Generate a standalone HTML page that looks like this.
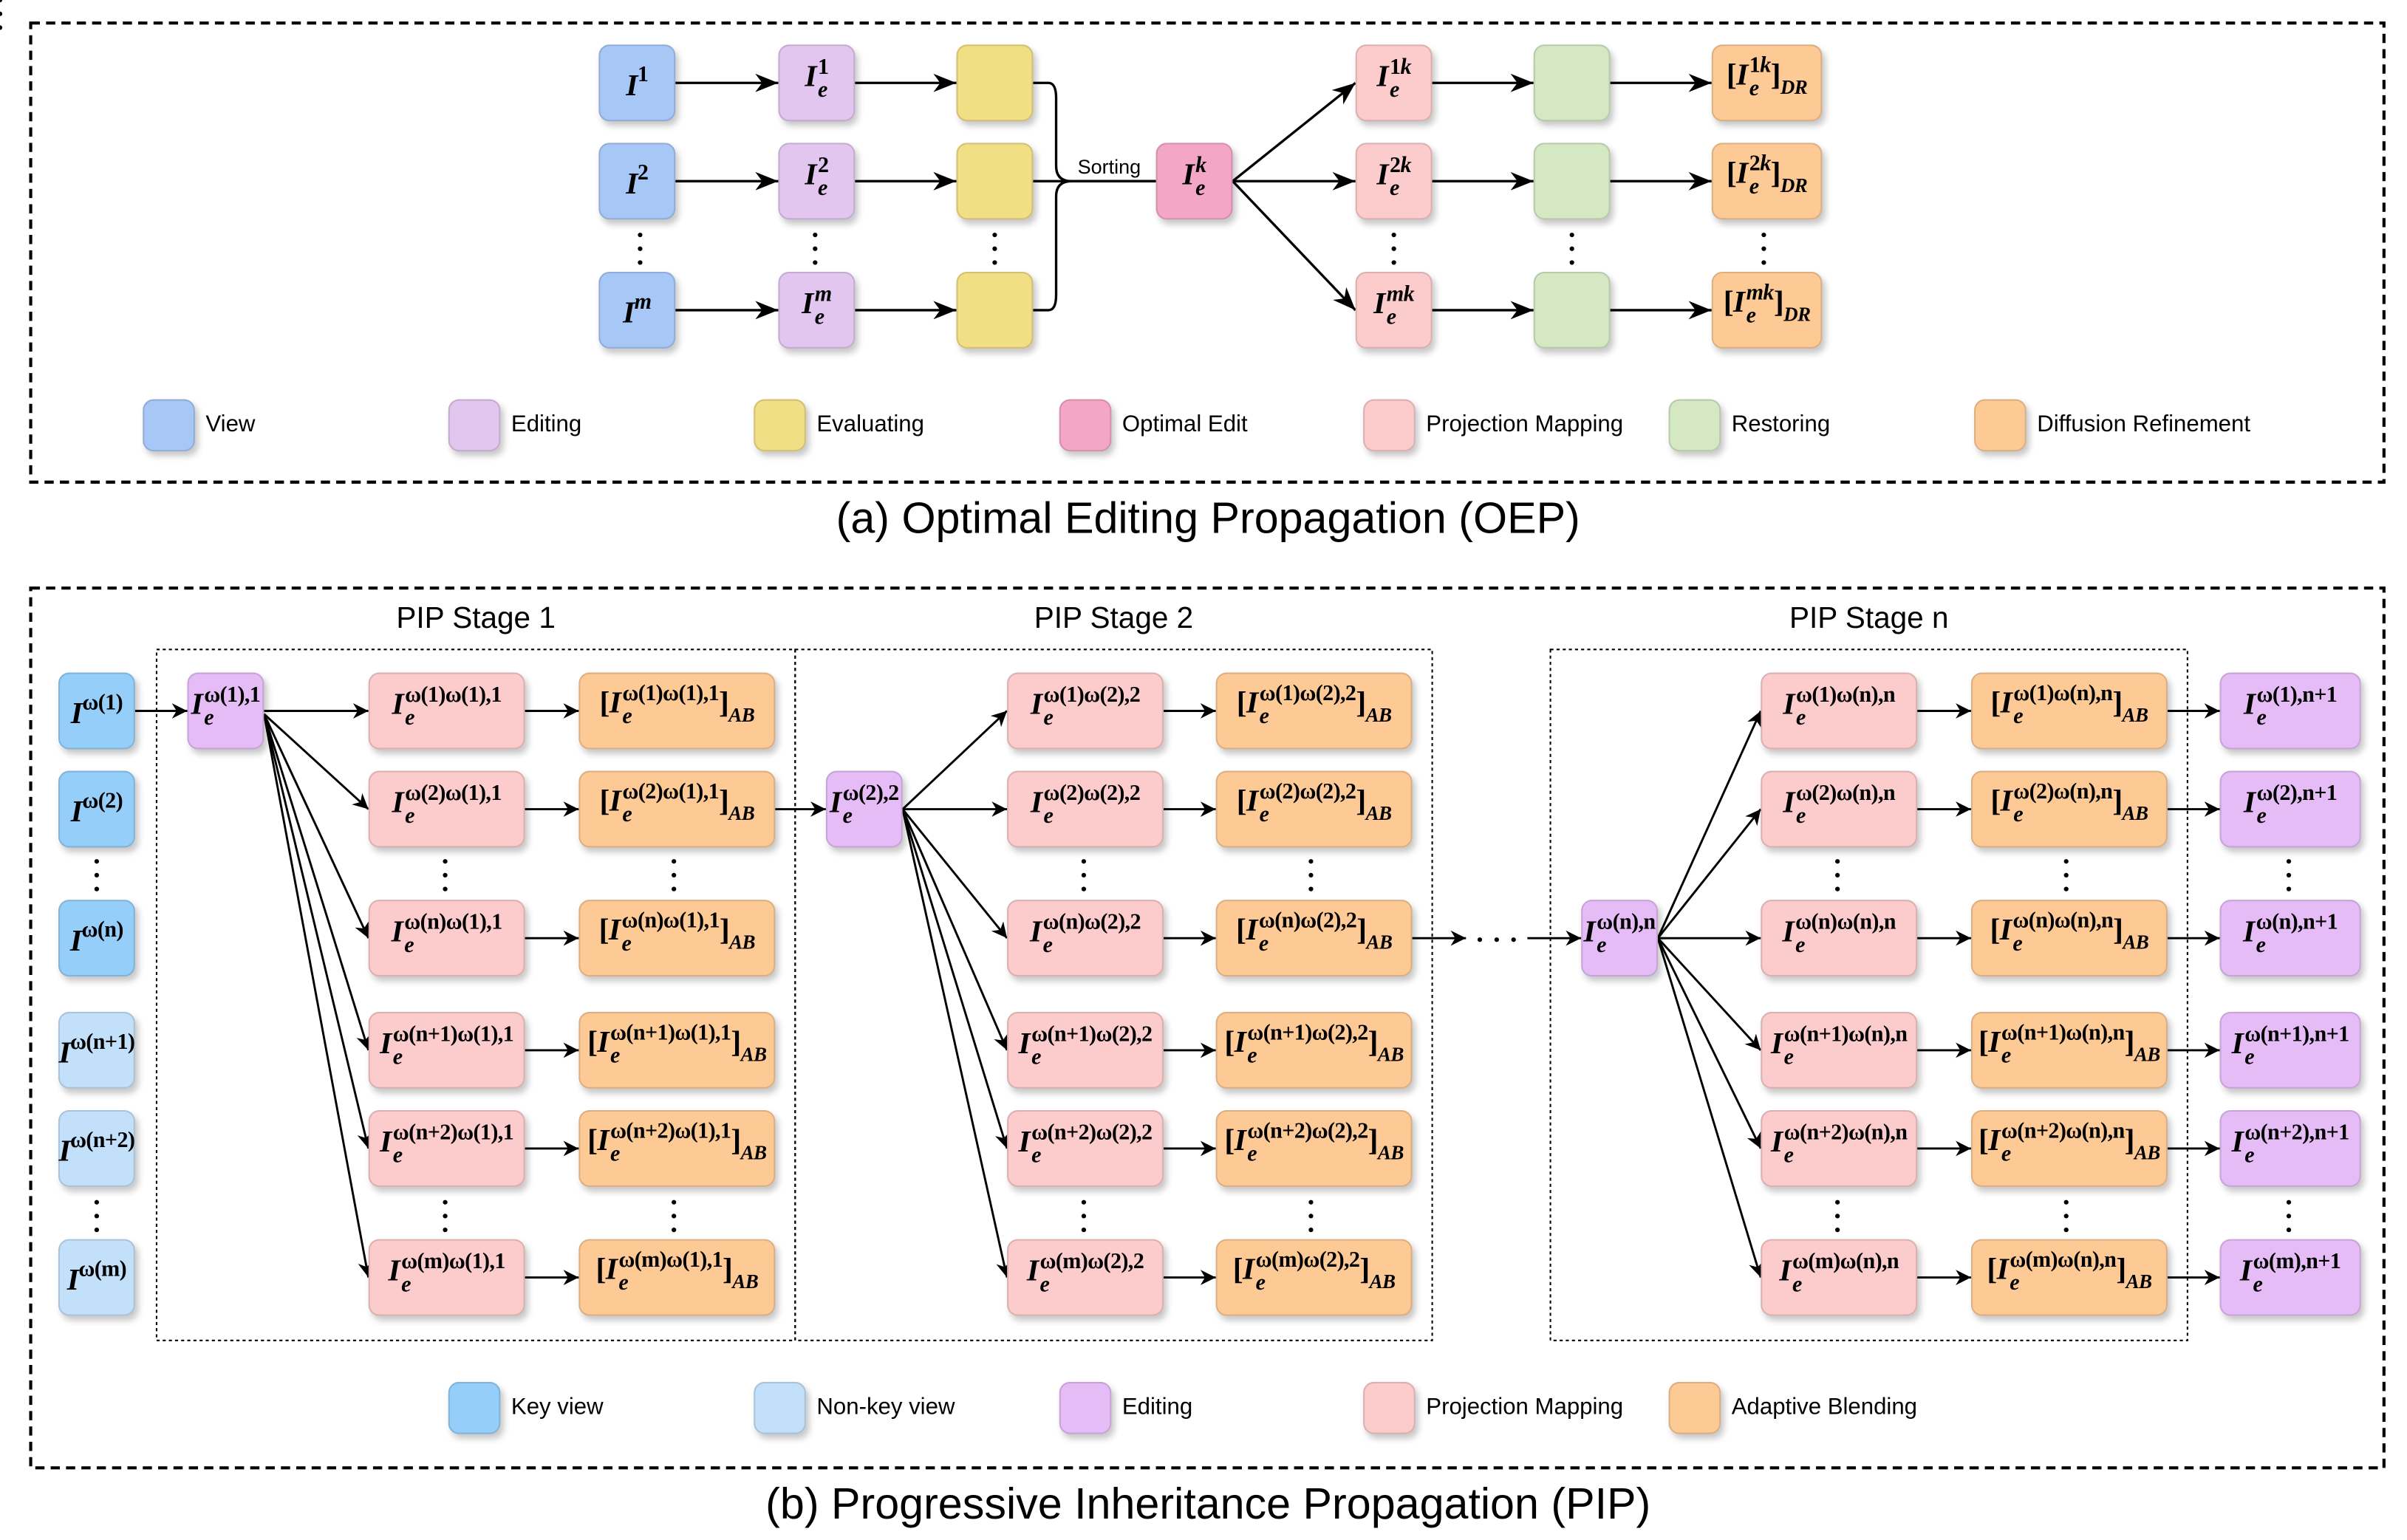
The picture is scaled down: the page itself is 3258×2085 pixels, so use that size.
<!DOCTYPE html>
<html><head><meta charset="utf-8">
<style>
html,body{margin:0;padding:0;background:#fff;}
body{width:3258px;height:2085px;overflow:hidden;position:relative;}
#c{position:absolute;left:0;top:0;width:1568px;height:1003px;transform-origin:0 0;transform:scale(2.0778,2.0788);font-family:"Liberation Sans",sans-serif;}
.b{position:absolute;box-sizing:border-box;border-radius:7px;border:1px solid rgba(0,0,0,.13);box-shadow:2px 3px 4px rgba(0,0,0,.22);display:flex;align-items:center;justify-content:center;white-space:nowrap;}
.m{font-family:"Liberation Serif","DejaVu Serif",serif;font-weight:bold;font-size:20px;line-height:22px;margin-top:-4px;letter-spacing:-0.3px;}
.m i{font-style:italic;}
.ss{display:inline-flex;flex-direction:column;vertical-align:8px;font-size:14.5px;line-height:15px;font-style:normal;margin-left:1px;}
.ss span:last-child{font-style:italic;}
.su{font-size:14.5px;vertical-align:9px;font-style:normal;}
.sb{font-size:13px;vertical-align:-6px;font-style:italic;}
.vi{background:#a7c7f7}.ed{background:#e2c6ef}.ev{background:#f2de84}.op{background:#f4a6c7}
.pj{background:#fccbcb}.rs{background:#d5e8c4}.df{background:#fdca96}
.kv{background:#95cff9}.nk{background:#c3e0fa}.pe{background:#e6bcf7}
.lg{position:absolute;font-size:15px;}
.t{position:absolute;white-space:nowrap;}
svg{position:absolute;left:0;top:0;}
</style></head><body><div id="c">

<svg width="1568" height="1003" viewBox="0 0 1568 1003">
<defs><marker id="a" viewBox="0 0 10 10" refX="10" refY="5" markerWidth="10" markerHeight="10" markerUnits="userSpaceOnUse" orient="auto"><path d="M0,0 L10,5 L0,10 L3,5z" fill="#000"/></marker>
<marker id="A" viewBox="0 0 10 10" refX="10" refY="5" markerWidth="15" markerHeight="15" markerUnits="userSpaceOnUse" orient="auto"><path d="M0,1 L10,5 L0,9 L3,5z" fill="#000"/></marker></defs>
<rect x="20" y="15" width="1533" height="299" fill="none" stroke="#000" stroke-width="2" stroke-dasharray="6,4"/>
<rect x="20" y="383" width="1533" height="573" fill="none" stroke="#000" stroke-width="2" stroke-dasharray="6,4"/>
<g fill="none" stroke="#000" stroke-width="1" stroke-dasharray="2,2">
<rect x="102" y="423" width="416" height="450"/><rect x="518" y="423" width="415" height="450"/><rect x="1010" y="423" width="415" height="450"/></g>
<g stroke="#000" stroke-width="1.6" fill="none" marker-end="url(#A)">
<line x1="440" y1="54" x2="507" y2="54"/><line x1="440" y1="118" x2="507" y2="118"/><line x1="440" y1="202" x2="507" y2="202"/>
<line x1="557" y1="54" x2="623" y2="54"/><line x1="557" y1="118" x2="623" y2="118"/><line x1="557" y1="202" x2="623" y2="202"/>
<line x1="803" y1="118" x2="883" y2="54"/><line x1="803" y1="118" x2="883" y2="118"/><line x1="803" y1="118" x2="883" y2="202"/>
<line x1="933" y1="54" x2="999" y2="54"/><line x1="933" y1="118" x2="999" y2="118"/><line x1="933" y1="202" x2="999" y2="202"/>
<line x1="1049" y1="54" x2="1115" y2="54"/><line x1="1049" y1="118" x2="1115" y2="118"/><line x1="1049" y1="202" x2="1115" y2="202"/>
</g>
<g stroke="#000" stroke-width="1.6" fill="none">
<path d="M673,54 H683 Q688,54 688,64 V108 Q688,118 698,118 H753"/>
<path d="M673,118 H753"/>
<path d="M673,202 H683 Q688,202 688,192 V128 Q688,118 698,118"/>
</g>
<g stroke="#000" stroke-width="1.4" fill="none" marker-end="url(#a)">
<line x1="88" y1="463" x2="122" y2="463"/>
<line x1="172" y1="463" x2="240" y2="463"/><line x1="172" y1="465" x2="240" y2="527"/><line x1="172" y1="465" x2="240" y2="611"/><line x1="172" y1="465" x2="240" y2="684"/><line x1="172" y1="465" x2="240" y2="748"/><line x1="172" y1="465" x2="240" y2="832"/>
<line x1="342" y1="463" x2="377" y2="463"/><line x1="342" y1="527" x2="377" y2="527"/><line x1="342" y1="611" x2="377" y2="611"/><line x1="342" y1="684" x2="377" y2="684"/><line x1="342" y1="748" x2="377" y2="748"/><line x1="342" y1="832" x2="377" y2="832"/>
<line x1="505" y1="527" x2="538" y2="527"/>
<line x1="588" y1="527" x2="656" y2="463"/><line x1="588" y1="527" x2="656" y2="527"/><line x1="588" y1="527" x2="656" y2="611"/><line x1="588" y1="527" x2="656" y2="684"/><line x1="588" y1="527" x2="656" y2="748"/><line x1="588" y1="527" x2="656" y2="832"/>
<line x1="758" y1="463" x2="792" y2="463"/><line x1="758" y1="527" x2="792" y2="527"/><line x1="758" y1="611" x2="792" y2="611"/><line x1="758" y1="684" x2="792" y2="684"/><line x1="758" y1="748" x2="792" y2="748"/><line x1="758" y1="832" x2="792" y2="832"/>
<line x1="920" y1="611" x2="955" y2="611"/><line x1="995" y1="611" x2="1030" y2="611"/>
<line x1="1080" y1="611" x2="1147" y2="463"/><line x1="1080" y1="611" x2="1147" y2="527"/><line x1="1080" y1="611" x2="1147" y2="611"/><line x1="1080" y1="611" x2="1147" y2="684"/><line x1="1080" y1="611" x2="1147" y2="748"/><line x1="1080" y1="611" x2="1147" y2="832"/>
<line x1="1249" y1="463" x2="1284" y2="463"/><line x1="1249" y1="527" x2="1284" y2="527"/><line x1="1249" y1="611" x2="1284" y2="611"/><line x1="1249" y1="684" x2="1284" y2="684"/><line x1="1249" y1="748" x2="1284" y2="748"/><line x1="1249" y1="832" x2="1284" y2="832"/>
<line x1="1412" y1="463" x2="1446" y2="463"/><line x1="1412" y1="527" x2="1446" y2="527"/><line x1="1412" y1="611" x2="1446" y2="611"/><line x1="1412" y1="684" x2="1446" y2="684"/><line x1="1412" y1="748" x2="1446" y2="748"/><line x1="1412" y1="832" x2="1446" y2="832"/>
</g>
<g fill="#000">
<circle cx="964" cy="612" r="1.5"/><circle cx="975" cy="612" r="1.5"/><circle cx="986" cy="612" r="1.5"/>
<g id="dt"><circle cx="0" cy="0" r="1.5"/><circle cx="0" cy="9" r="1.5"/><circle cx="0" cy="18" r="1.5"/></g>
</g>
<g fill="#000">
<use href="#dt" x="417" y="153"/><use href="#dt" x="531" y="153"/><use href="#dt" x="648" y="153"/><use href="#dt" x="908" y="153"/><use href="#dt" x="1024" y="153"/><use href="#dt" x="1149" y="153"/>
<use href="#dt" x="63" y="561"/><use href="#dt" x="63" y="783"/>
<use href="#dt" x="290" y="561"/><use href="#dt" x="439" y="561"/><use href="#dt" x="290" y="783"/><use href="#dt" x="439" y="783"/>
<use href="#dt" x="706" y="561"/><use href="#dt" x="854" y="561"/><use href="#dt" x="706" y="783"/><use href="#dt" x="854" y="783"/>
<use href="#dt" x="1197" y="561"/><use href="#dt" x="1346" y="561"/><use href="#dt" x="1491" y="561"/><use href="#dt" x="1197" y="783"/><use href="#dt" x="1346" y="783"/><use href="#dt" x="1491" y="783"/>
</g>
</svg>

<!-- top -->
<div class="b vi" style="left:390px;top:29px;width:50px;height:50px"><span class="m"><i>I</i><span class="su">1</span></span></div>
<div class="b vi" style="left:390px;top:93px;width:50px;height:50px"><span class="m"><i>I</i><span class="su">2</span></span></div>
<div class="b vi" style="left:390px;top:177px;width:50px;height:50px"><span class="m"><i>I</i><span class="su"><i>m</i></span></span></div>
<div class="b ed" style="left:507px;top:29px;width:50px;height:50px"><span class="m"><i>I</i><span class="ss"><span>1</span><span>e</span></span></span></div>
<div class="b ed" style="left:507px;top:93px;width:50px;height:50px"><span class="m"><i>I</i><span class="ss"><span>2</span><span>e</span></span></span></div>
<div class="b ed" style="left:507px;top:177px;width:50px;height:50px"><span class="m"><i>I</i><span class="ss"><span><i>m</i></span><span>e</span></span></span></div>
<div class="b ev" style="left:623px;top:29px;width:50px;height:50px"></div>
<div class="b ev" style="left:623px;top:93px;width:50px;height:50px"></div>
<div class="b ev" style="left:623px;top:177px;width:50px;height:50px"></div>
<div class="t" style="left:702px;top:101px;font-size:13px">Sorting</div>
<div class="b op" style="left:753px;top:93px;width:50px;height:50px"><span class="m"><i>I</i><span class="ss"><span><i>k</i></span><span>e</span></span></span></div>
<div class="b pj" style="left:883px;top:29px;width:50px;height:50px"><span class="m"><i>I</i><span class="ss"><span>1<i>k</i></span><span>e</span></span></span></div>
<div class="b pj" style="left:883px;top:93px;width:50px;height:50px"><span class="m"><i>I</i><span class="ss"><span>2<i>k</i></span><span>e</span></span></span></div>
<div class="b pj" style="left:883px;top:177px;width:50px;height:50px"><span class="m"><i>I</i><span class="ss"><span><i>mk</i></span><span>e</span></span></span></div>
<div class="b rs" style="left:999px;top:29px;width:50px;height:50px"></div>
<div class="b rs" style="left:999px;top:93px;width:50px;height:50px"></div>
<div class="b rs" style="left:999px;top:177px;width:50px;height:50px"></div>
<div class="b df" style="left:1115px;top:29px;width:72px;height:50px"><span class="m">[<i>I</i><span class="ss"><span>1<i>k</i></span><span>e</span></span>]<span class="sb">DR</span></span></div>
<div class="b df" style="left:1115px;top:93px;width:72px;height:50px"><span class="m">[<i>I</i><span class="ss"><span>2<i>k</i></span><span>e</span></span>]<span class="sb">DR</span></span></div>
<div class="b df" style="left:1115px;top:177px;width:72px;height:50px"><span class="m">[<i>I</i><span class="ss"><span><i>mk</i></span><span>e</span></span>]<span class="sb">DR</span></span></div>

<div class="b vi" style="left:93px;top:260px;width:34px;height:34px"></div><div class="lg" style="left:134px;top:268px">View</div>
<div class="b ed" style="left:292px;top:260px;width:34px;height:34px"></div><div class="lg" style="left:333px;top:268px">Editing</div>
<div class="b ev" style="left:491px;top:260px;width:34px;height:34px"></div><div class="lg" style="left:532px;top:268px">Evaluating</div>
<div class="b op" style="left:690px;top:260px;width:34px;height:34px"></div><div class="lg" style="left:731px;top:268px">Optimal Edit</div>
<div class="b pj" style="left:888px;top:260px;width:34px;height:34px"></div><div class="lg" style="left:929px;top:268px">Projection Mapping</div>
<div class="b rs" style="left:1087px;top:260px;width:34px;height:34px"></div><div class="lg" style="left:1128px;top:268px">Restoring</div>
<div class="b df" style="left:1286px;top:260px;width:34px;height:34px"></div><div class="lg" style="left:1327px;top:268px">Diffusion Refinement</div>

<div class="t" style="left:0;width:1574px;text-align:center;top:322px;font-size:28.5px">(a) Optimal Editing Propagation (OEP)</div>

<!-- bottom -->
<div class="t" style="left:102px;width:416px;text-align:center;top:392px;font-size:19.5px">PIP Stage 1</div>
<div class="t" style="left:518px;width:415px;text-align:center;top:392px;font-size:19.5px">PIP Stage 2</div>
<div class="t" style="left:1010px;width:415px;text-align:center;top:392px;font-size:19.5px">PIP Stage n</div>

<div class="b kv" style="left:38px;top:438px;width:50px;height:50px"><span class="m"><i>I</i><span class="su">ω(1)</span></span></div>
<div class="b kv" style="left:38px;top:502px;width:50px;height:50px"><span class="m"><i>I</i><span class="su">ω(2)</span></span></div>
<div class="b kv" style="left:38px;top:586px;width:50px;height:50px"><span class="m"><i>I</i><span class="su">ω(n)</span></span></div>
<div class="b nk" style="left:38px;top:659px;width:50px;height:50px"><span class="m"><i>I</i><span class="su">ω(n+1)</span></span></div>
<div class="b nk" style="left:38px;top:723px;width:50px;height:50px"><span class="m"><i>I</i><span class="su">ω(n+2)</span></span></div>
<div class="b nk" style="left:38px;top:807px;width:50px;height:50px"><span class="m"><i>I</i><span class="su">ω(m)</span></span></div>

<div class="b pe" style="left:122px;top:438px;width:50px;height:50px"><span class="m"><i>I</i><span class="ss"><span>ω(1),1</span><span>e</span></span></span></div>
<div class="b pe" style="left:538px;top:502px;width:50px;height:50px"><span class="m"><i>I</i><span class="ss"><span>ω(2),2</span><span>e</span></span></span></div>
<div class="b pe" style="left:1030px;top:586px;width:50px;height:50px"><span class="m"><i>I</i><span class="ss"><span>ω(n),n</span><span>e</span></span></span></div>

<!-- stage1 -->
<div class="b pj" style="left:240px;top:438px;width:102px;height:50px"><span class="m"><i>I</i><span class="ss"><span>ω(1)ω(1),1</span><span>e</span></span></span></div>
<div class="b pj" style="left:240px;top:502px;width:102px;height:50px"><span class="m"><i>I</i><span class="ss"><span>ω(2)ω(1),1</span><span>e</span></span></span></div>
<div class="b pj" style="left:240px;top:586px;width:102px;height:50px"><span class="m"><i>I</i><span class="ss"><span>ω(n)ω(1),1</span><span>e</span></span></span></div>
<div class="b pj" style="left:240px;top:659px;width:102px;height:50px"><span class="m"><i>I</i><span class="ss"><span>ω(n+1)ω(1),1</span><span>e</span></span></span></div>
<div class="b pj" style="left:240px;top:723px;width:102px;height:50px"><span class="m"><i>I</i><span class="ss"><span>ω(n+2)ω(1),1</span><span>e</span></span></span></div>
<div class="b pj" style="left:240px;top:807px;width:102px;height:50px"><span class="m"><i>I</i><span class="ss"><span>ω(m)ω(1),1</span><span>e</span></span></span></div>
<div class="b df" style="left:377px;top:438px;width:128px;height:50px"><span class="m">[<i>I</i><span class="ss"><span>ω(1)ω(1),1</span><span>e</span></span>]<span class="sb">AB</span></span></div>
<div class="b df" style="left:377px;top:502px;width:128px;height:50px"><span class="m">[<i>I</i><span class="ss"><span>ω(2)ω(1),1</span><span>e</span></span>]<span class="sb">AB</span></span></div>
<div class="b df" style="left:377px;top:586px;width:128px;height:50px"><span class="m">[<i>I</i><span class="ss"><span>ω(n)ω(1),1</span><span>e</span></span>]<span class="sb">AB</span></span></div>
<div class="b df" style="left:377px;top:659px;width:128px;height:50px"><span class="m">[<i>I</i><span class="ss"><span>ω(n+1)ω(1),1</span><span>e</span></span>]<span class="sb">AB</span></span></div>
<div class="b df" style="left:377px;top:723px;width:128px;height:50px"><span class="m">[<i>I</i><span class="ss"><span>ω(n+2)ω(1),1</span><span>e</span></span>]<span class="sb">AB</span></span></div>
<div class="b df" style="left:377px;top:807px;width:128px;height:50px"><span class="m">[<i>I</i><span class="ss"><span>ω(m)ω(1),1</span><span>e</span></span>]<span class="sb">AB</span></span></div>

<!-- stage2 -->
<div class="b pj" style="left:656px;top:438px;width:102px;height:50px"><span class="m"><i>I</i><span class="ss"><span>ω(1)ω(2),2</span><span>e</span></span></span></div>
<div class="b pj" style="left:656px;top:502px;width:102px;height:50px"><span class="m"><i>I</i><span class="ss"><span>ω(2)ω(2),2</span><span>e</span></span></span></div>
<div class="b pj" style="left:656px;top:586px;width:102px;height:50px"><span class="m"><i>I</i><span class="ss"><span>ω(n)ω(2),2</span><span>e</span></span></span></div>
<div class="b pj" style="left:656px;top:659px;width:102px;height:50px"><span class="m"><i>I</i><span class="ss"><span>ω(n+1)ω(2),2</span><span>e</span></span></span></div>
<div class="b pj" style="left:656px;top:723px;width:102px;height:50px"><span class="m"><i>I</i><span class="ss"><span>ω(n+2)ω(2),2</span><span>e</span></span></span></div>
<div class="b pj" style="left:656px;top:807px;width:102px;height:50px"><span class="m"><i>I</i><span class="ss"><span>ω(m)ω(2),2</span><span>e</span></span></span></div>
<div class="b df" style="left:792px;top:438px;width:128px;height:50px"><span class="m">[<i>I</i><span class="ss"><span>ω(1)ω(2),2</span><span>e</span></span>]<span class="sb">AB</span></span></div>
<div class="b df" style="left:792px;top:502px;width:128px;height:50px"><span class="m">[<i>I</i><span class="ss"><span>ω(2)ω(2),2</span><span>e</span></span>]<span class="sb">AB</span></span></div>
<div class="b df" style="left:792px;top:586px;width:128px;height:50px"><span class="m">[<i>I</i><span class="ss"><span>ω(n)ω(2),2</span><span>e</span></span>]<span class="sb">AB</span></span></div>
<div class="b df" style="left:792px;top:659px;width:128px;height:50px"><span class="m">[<i>I</i><span class="ss"><span>ω(n+1)ω(2),2</span><span>e</span></span>]<span class="sb">AB</span></span></div>
<div class="b df" style="left:792px;top:723px;width:128px;height:50px"><span class="m">[<i>I</i><span class="ss"><span>ω(n+2)ω(2),2</span><span>e</span></span>]<span class="sb">AB</span></span></div>
<div class="b df" style="left:792px;top:807px;width:128px;height:50px"><span class="m">[<i>I</i><span class="ss"><span>ω(m)ω(2),2</span><span>e</span></span>]<span class="sb">AB</span></span></div>

<!-- stage n -->
<div class="b pj" style="left:1147px;top:438px;width:102px;height:50px"><span class="m"><i>I</i><span class="ss"><span>ω(1)ω(n),n</span><span>e</span></span></span></div>
<div class="b pj" style="left:1147px;top:502px;width:102px;height:50px"><span class="m"><i>I</i><span class="ss"><span>ω(2)ω(n),n</span><span>e</span></span></span></div>
<div class="b pj" style="left:1147px;top:586px;width:102px;height:50px"><span class="m"><i>I</i><span class="ss"><span>ω(n)ω(n),n</span><span>e</span></span></span></div>
<div class="b pj" style="left:1147px;top:659px;width:102px;height:50px"><span class="m"><i>I</i><span class="ss"><span>ω(n+1)ω(n),n</span><span>e</span></span></span></div>
<div class="b pj" style="left:1147px;top:723px;width:102px;height:50px"><span class="m"><i>I</i><span class="ss"><span>ω(n+2)ω(n),n</span><span>e</span></span></span></div>
<div class="b pj" style="left:1147px;top:807px;width:102px;height:50px"><span class="m"><i>I</i><span class="ss"><span>ω(m)ω(n),n</span><span>e</span></span></span></div>
<div class="b df" style="left:1284px;top:438px;width:128px;height:50px"><span class="m">[<i>I</i><span class="ss"><span>ω(1)ω(n),n</span><span>e</span></span>]<span class="sb">AB</span></span></div>
<div class="b df" style="left:1284px;top:502px;width:128px;height:50px"><span class="m">[<i>I</i><span class="ss"><span>ω(2)ω(n),n</span><span>e</span></span>]<span class="sb">AB</span></span></div>
<div class="b df" style="left:1284px;top:586px;width:128px;height:50px"><span class="m">[<i>I</i><span class="ss"><span>ω(n)ω(n),n</span><span>e</span></span>]<span class="sb">AB</span></span></div>
<div class="b df" style="left:1284px;top:659px;width:128px;height:50px"><span class="m">[<i>I</i><span class="ss"><span>ω(n+1)ω(n),n</span><span>e</span></span>]<span class="sb">AB</span></span></div>
<div class="b df" style="left:1284px;top:723px;width:128px;height:50px"><span class="m">[<i>I</i><span class="ss"><span>ω(n+2)ω(n),n</span><span>e</span></span>]<span class="sb">AB</span></span></div>
<div class="b df" style="left:1284px;top:807px;width:128px;height:50px"><span class="m">[<i>I</i><span class="ss"><span>ω(m)ω(n),n</span><span>e</span></span>]<span class="sb">AB</span></span></div>
<div class="b pe" style="left:1446px;top:438px;width:92px;height:50px"><span class="m"><i>I</i><span class="ss"><span>ω(1),n+1</span><span>e</span></span></span></div>
<div class="b pe" style="left:1446px;top:502px;width:92px;height:50px"><span class="m"><i>I</i><span class="ss"><span>ω(2),n+1</span><span>e</span></span></span></div>
<div class="b pe" style="left:1446px;top:586px;width:92px;height:50px"><span class="m"><i>I</i><span class="ss"><span>ω(n),n+1</span><span>e</span></span></span></div>
<div class="b pe" style="left:1446px;top:659px;width:92px;height:50px"><span class="m"><i>I</i><span class="ss"><span>ω(n+1),n+1</span><span>e</span></span></span></div>
<div class="b pe" style="left:1446px;top:723px;width:92px;height:50px"><span class="m"><i>I</i><span class="ss"><span>ω(n+2),n+1</span><span>e</span></span></span></div>
<div class="b pe" style="left:1446px;top:807px;width:92px;height:50px"><span class="m"><i>I</i><span class="ss"><span>ω(m),n+1</span><span>e</span></span></span></div>

<div class="b kv" style="left:292px;top:900px;width:34px;height:34px"></div><div class="lg" style="left:333px;top:908px">Key view</div>
<div class="b nk" style="left:491px;top:900px;width:34px;height:34px"></div><div class="lg" style="left:532px;top:908px">Non-key view</div>
<div class="b pe" style="left:690px;top:900px;width:34px;height:34px"></div><div class="lg" style="left:731px;top:908px">Editing</div>
<div class="b pj" style="left:888px;top:900px;width:34px;height:34px"></div><div class="lg" style="left:929px;top:908px">Projection Mapping</div>
<div class="b df" style="left:1087px;top:900px;width:34px;height:34px"></div><div class="lg" style="left:1128px;top:908px">Adaptive Blending</div>

<div class="t" style="left:0;width:1574px;text-align:center;top:964px;font-size:28.5px">(b) Progressive Inheritance Propagation (PIP)</div>
</div></body></html>
